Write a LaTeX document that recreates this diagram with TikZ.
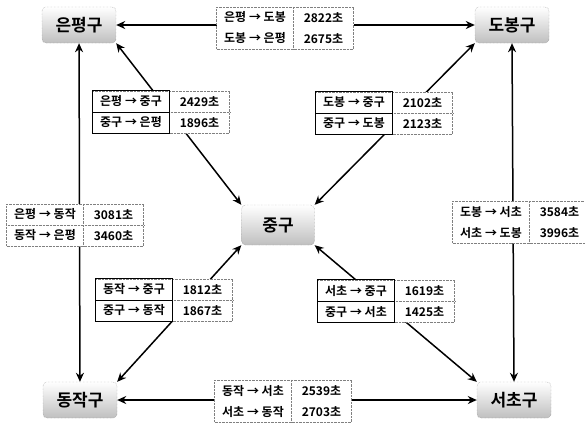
\documentclass[tikz,border=0pt]{standalone}
\usepackage{fontspec}
\setmainfont{Noto Sans CJK KR}[BoldFont={Noto Sans CJK KR Bold}]
\usetikzlibrary{arrows.meta,matrix}
\tikzset{%
  >={Stealth[width=8pt,length=9pt]},
  % districts
        district/.style = {rectangle, rounded corners=4pt, draw=gray,
                           densely dotted, top color=white, bottom color=gray!50,
                           minimum width=74pt, minimum height=36pt,
                           font=\bfseries\fontsize{17}{17}\selectfont},
  % travel time tables
       timetable/.style = {matrix of nodes, draw=gray, densely dotted,
                           fill=white, inner sep=0pt, row sep=0pt, column sep=0pt,
                           font=\bfseries\fontsize{12}{12}\selectfont,
                           nodes={minimum height=21pt, inner sep=0pt, anchor=center},
                           column 1/.style={nodes={minimum width=77pt}},
                           column 2/.style={nodes={minimum width=60pt}}},
         divider/.style = {draw=gray, densely dotted},
          boxcol/.style = {draw=black, line width=0.8pt},
            link/.style = {<->, line width=1.5pt},
}
\begin{document}
\begin{tikzpicture}[x=1pt,y=-1pt]
  \useasboundingbox (0,0) rectangle (585,424);

  % districts
  \node (eunpyeong) [district] at (79,25)  {은평구};
  \node (dobong)    [district] at (512,25) {도봉구};
  \node (junggu)    [district, minimum width=73pt, minimum height=40pt] at (278,225) {중구};
  \node (dongjak)   [district] at (80,400) {동작구};
  \node (seocho)    [district] at (514,400) {서초구};

  % connectors
  \draw[link] (eunpyeong) -- (dobong);
  \draw[link] (eunpyeong) -- (dongjak);
  \draw[link] (dobong.south) -- (seocho.north);
  \draw[link] (dongjak) -- (seocho);
  \draw[link] (eunpyeong.south east) -- (junggu.north west);
  \draw[link] (dobong.south west) -- (junggu.north east);
  \draw[link] (dongjak.north east) -- (junggu.south west);
  \draw[link] (seocho.north west) -- (junggu.south east);

  % outer tables
  \matrix (tEunDob) [timetable] at (285,28) {
    은평 → 도봉 & 2822초 \\
    도봉 → 은평 & 2675초 \\
  };
  \draw[divider] (tEunDob-1-2.north west) -- (tEunDob-2-2.south west);

  \matrix (tEunDong) [timetable] at (75,225) {
    은평 → 동작 & 3081초 \\
    동작 → 은평 & 3460초 \\
  };
  \draw[divider] (tEunDong-1-2.north west) -- (tEunDong-2-2.south west);
  \draw[divider] (tEunDong-1-1.south west) -- (tEunDong-1-2.south east);

  \matrix (tDobSeo) [timetable] at (521,222) {
    도봉 → 서초 & 3584초 \\
    서초 → 도봉 & 3996초 \\
  };
  \draw[divider] (tDobSeo-1-2.north west) -- (tDobSeo-2-2.south west);

  \matrix (tDongSeo) [timetable] at (283,401) {
    동작 → 서초 & 2539초 \\
    서초 → 동작 & 2703초 \\
  };
  \draw[divider] (tDongSeo-1-2.north west) -- (tDongSeo-2-2.south west);

  % inner tables
  \matrix (tEunJung) [timetable] at (161,112) {
    은평 → 중구 & 2429초 \\
    중구 → 은평 & 1896초 \\
  };
  \draw[divider] (tEunJung-1-2.south west) -- (tEunJung-1-2.south east);
  \draw[boxcol] (tEunJung-1-1.north west) rectangle (tEunJung-2-1.south east);
  \draw[boxcol] (tEunJung-1-1.south west) -- (tEunJung-1-1.south east);

  \matrix (tDobJung) [timetable] at (384,113) {
    도봉 → 중구 & 2102초 \\
    중구 → 도봉 & 2123초 \\
  };
  \draw[divider] (tDobJung-1-2.south west) -- (tDobJung-1-2.south east);
  \draw[boxcol] (tDobJung-1-1.north west) rectangle (tDobJung-2-1.south east);
  \draw[boxcol] (tDobJung-1-1.south west) -- (tDobJung-1-1.south east);

  \matrix (tDongJung) [timetable] at (164,300) {
    동작 → 중구 & 1812초 \\
    중구 → 동작 & 1867초 \\
  };
  \draw[divider] (tDongJung-1-2.south west) -- (tDongJung-1-2.south east);
  \draw[boxcol] (tDongJung-1-1.north west) rectangle (tDongJung-2-1.south east);
  \draw[boxcol] (tDongJung-1-1.south west) -- (tDongJung-1-1.south east);

  \matrix (tSeoJung) [timetable] at (386,301) {
    서초 → 중구 & 1619초 \\
    중구 → 서초 & 1425초 \\
  };
  \draw[divider] (tSeoJung-1-2.south west) -- (tSeoJung-1-2.south east);
  \draw[boxcol] (tSeoJung-1-1.north west) rectangle (tSeoJung-2-1.south east);
  \draw[boxcol] (tSeoJung-1-1.south west) -- (tSeoJung-1-1.south east);
\end{tikzpicture}
\end{document}
